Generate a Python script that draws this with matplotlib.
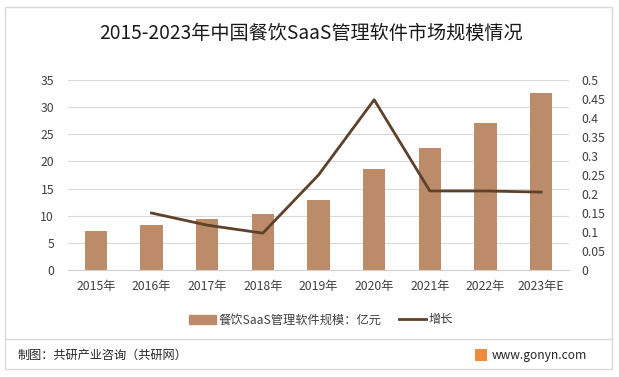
import matplotlib
matplotlib.use("Agg")
import matplotlib.pyplot as plt
from matplotlib.patches import Rectangle, Patch
from matplotlib.lines import Line2D

plt.rcParams['font.family'] = ['Noto Sans CJK SC', 'DejaVu Sans']

years = ["2015年", "2016年", "2017年", "2018年", "2019年", "2020年", "2021年", "2022年", "2023年E"]
market_size = [7.2, 8.3, 9.4, 10.3, 12.9, 18.6, 22.5, 27.1, 32.6]
growth_years = years[1:]
growth = [0.15, 0.118, 0.097, 0.25, 0.448, 0.208, 0.208, 0.205]
left_ticks = [0, 5, 10, 15, 20, 25, 30, 35]
right_ticks = [0, 0.05, 0.1, 0.15, 0.2, 0.25, 0.3, 0.35, 0.4, 0.45, 0.5]

bar_color = "#BC8B6A"
line_color = "#5E4129"
grid_color = "#D9D9D9"
text_color = "#404040"

W, H = 619, 377
fig = plt.figure(figsize=(W/100, H/100), dpi=100)
fig.patch.set_facecolor("white")
fig.patches.append(Rectangle((5/W, 1-369/H), 607/W, 362/H, transform=fig.transFigure,
                             fill=False, edgecolor="#D9D9D9", linewidth=1))

ax = fig.add_axes([68/W, 1-270/H, 501/W, 190/H])
x = list(range(len(years)))
ax.bar(x, market_size, width=0.4, color=bar_color, zorder=2, label="餐饮SaaS管理软件规模：亿元")
ax.set_xlim(-0.5, len(years)-0.5)
ax.set_ylim(0, 35)
ax.set_yticks(left_ticks)
ax.set_xticks(x)
ax.set_xticklabels(years, fontsize=8.8, color=text_color)
ax.tick_params(axis='y', labelsize=8.8, colors=text_color, length=0, pad=10)
ax.tick_params(axis='x', length=0, pad=7)
ax.grid(axis='y', color=grid_color, linewidth=0.8, zorder=0)
for s in ["top", "right", "left"]:
    ax.spines[s].set_visible(False)
ax.spines["bottom"].set_color("#D0D0D0")

ax2 = ax.twinx()
ax2.plot(x[1:], growth, color=line_color, linewidth=2, zorder=3, label="增长")
ax2.set_ylim(0, 0.5)
ax2.set_yticks(right_ticks)
ax2.set_yticklabels([f"{t:g}" for t in right_ticks])
ax2.tick_params(axis='y', labelsize=8.8, colors=text_color, length=0, pad=9)
for s in ["top", "right", "left", "bottom"]:
    ax2.spines[s].set_visible(False)

renderer = fig.canvas.get_renderer()

def fit_text(t, target_px):
    bb = t.get_window_extent(renderer=renderer)
    t.set_fontsize(t.get_fontsize() * target_px / bb.width)
    return t

title = fig.text(311.5/W, 1-33/H, "2015-2023年中国餐饮SaaS管理软件市场规模情况", ha="center", va="center",
                 fontsize=12, color="#1a1a1a")
fit_text(title, 423)

handles = [Patch(color=bar_color), Line2D([0], [0], color=line_color, linewidth=2)]
labels = ["餐饮SaaS管理软件规模：亿元", "增长"]
fig.legend(handles, labels, loc="center", bbox_to_anchor=(321/W, 1-320/H), ncol=2,
           frameon=False, fontsize=8.8, handlelength=2.2, handleheight=0.7, columnspacing=1.5,
           handletextpad=0.2, labelcolor=text_color)

fig.add_artist(Line2D([5/W, 612/W], [1-339/H, 1-339/H], transform=fig.transFigure,
                      color="#D9D9D9", linewidth=1))
foot = fig.text(18/W, 1-355/H, "制图：共研产业咨询（共研网）", ha="left", va="center", fontsize=9, color="#262626")
fit_text(foot, 170)
fig.patches.append(Rectangle((475/W, 1-361/H), 12/W, 12/H, transform=fig.transFigure,
                             facecolor="#F08A3C", edgecolor="none"))
site = fig.text(492/W, 1-355/H, "www.gonyn.com", ha="left", va="center", fontsize=9, color="#262626")
fit_text(site, 95)

fig.savefig("out.png", dpi=100)
